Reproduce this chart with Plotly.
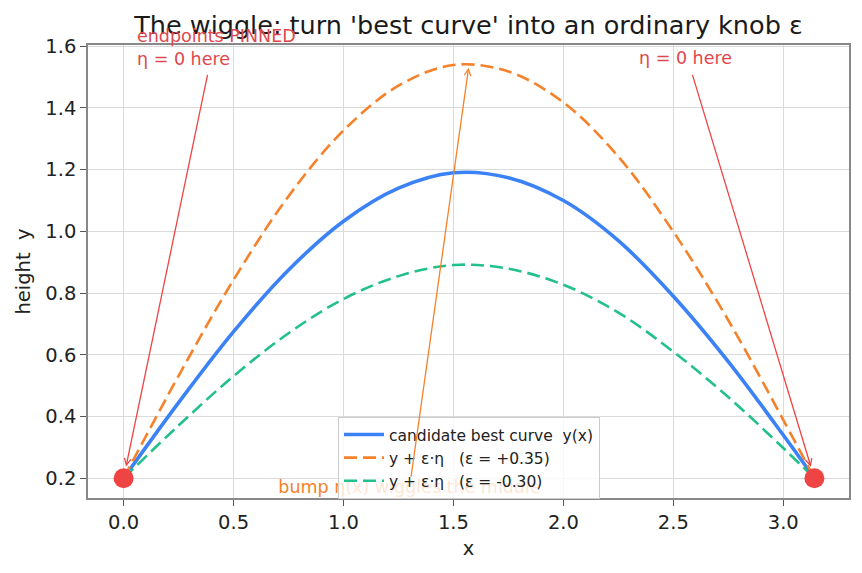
import plotly.graph_objects as go

# sampled x positions and read-off heights
x_vals = [0.0, 0.25, 0.5, 0.75, 1.0, 1.25, 1.5, 1.75, 2.0, 2.25, 2.5, 2.75, 3.0, 3.1416]
y_best = [0.20, 0.445, 0.675, 0.875, 1.033, 1.14, 1.19, 1.174, 1.10, 0.97, 0.79, 0.578, 0.34, 0.20]
y_plus = [0.20, 0.532, 0.843, 1.114, 1.327, 1.472, 1.539, 1.518, 1.418, 1.242, 0.999, 0.712, 0.389, 0.20]
y_minus = [0.20, 0.371, 0.531, 0.670, 0.781, 0.855, 0.891, 0.879, 0.827, 0.737, 0.610, 0.463, 0.298, 0.20]
end_x = [0.0, 3.1416]
end_y = [0.20, 0.20]
peak_x = 1.5708
peak_y = 1.54
bump_text_x = [1.30]
bump_text_y = [0.168]

NB = "\u00a0"
labels = ["candidate best curve" + NB * 2 + "y(x)",
          "y + ε·η" + NB * 3 + "(ε = +0.35)",
          "y + ε·η" + NB * 3 + "(ε = -0.30)"]

BLUE = "#3b82f6"
ORANGE = "#f5822a"
GREEN = "#22c08a"
RED = "#ef4444"
FONT = "DejaVu Sans"

fig = go.Figure()
fig.add_trace(go.Scatter(x=x_vals, y=y_best, mode="lines", name=labels[0],
                         line=dict(color=BLUE, width=3.6, shape="spline")))
fig.add_trace(go.Scatter(x=x_vals, y=y_plus, mode="lines", name=labels[1],
                         line=dict(color=ORANGE, width=2.6, dash="13px,6px", shape="spline")))
fig.add_trace(go.Scatter(x=x_vals, y=y_minus, mode="lines", name=labels[2],
                         line=dict(color=GREEN, width=2.6, dash="13px,6px", shape="spline")))
fig.add_trace(go.Scatter(x=end_x, y=end_y, mode="markers", showlegend=False,
                         marker=dict(color=RED, size=20, line=dict(width=0))))
# bump label drawn as a trace so the legend sits over it
fig.add_trace(go.Scatter(x=bump_text_x, y=bump_text_y, mode="text", showlegend=False,
                         text=["bump η(x) wiggles the middle"], textposition="middle center",
                         textfont=dict(family=FONT, size=17.5, color=ORANGE), hoverinfo="skip"))

ann_font_red = dict(family=FONT, size=17.5, color="#e0474c")
annotations = [
    dict(x=end_x[0], y=end_y[0], ax=0.383, ay=1.512, xref="x", yref="y", axref="x", ayref="y",
         text="", showarrow=True, arrowhead=5, arrowsize=1, arrowwidth=1.3, arrowcolor=RED, standoff=12),
    dict(x=0.05, y=1.596, xref="x", yref="y", xanchor="left", yanchor="middle", align="left",
         text="endpoints PINNED<br>η = 0 here", showarrow=False, font=ann_font_red),
    dict(x=end_x[1], y=end_y[1], ax=2.585, ay=1.512, xref="x", yref="y", axref="x", ayref="y",
         text="", showarrow=True, arrowhead=5, arrowsize=1, arrowwidth=1.3, arrowcolor=RED, standoff=12),
    dict(x=2.557, y=1.563, xref="x", yref="y", xanchor="center", yanchor="middle",
         text="η = 0 here", showarrow=False, font=ann_font_red),
    dict(x=peak_x, y=peak_y, ax=bump_text_x[0], ay=bump_text_y[0], xref="x", yref="y",
         axref="x", ayref="y", text="", showarrow=True, arrowhead=5, arrowsize=1,
         arrowwidth=1.3, arrowcolor=ORANGE, standoff=3, startstandoff=10),
]

axis_common = dict(showgrid=True, gridcolor="#dadada", gridwidth=1, zeroline=False,
                   showline=True, linecolor="#888888", linewidth=1.5, mirror=True,
                   ticks="outside", ticklen=6, tickcolor="#555555", tickwidth=1.3,
                   tickfont=dict(family=FONT, size=19.5, color="#222222"))

fig.update_layout(
    width=862, height=573,
    margin=dict(l=88, r=13, t=45, b=75),
    paper_bgcolor="white", plot_bgcolor="white",
    title=dict(text="The wiggle: turn 'best curve' into an ordinary knob ε",
               x=468.5 / 862, xanchor="center", y=1 - 25 / 573, yanchor="middle",
               font=dict(family=FONT, size=25.5, color="#1a1a1a")),
    xaxis=dict(range=[-0.162, 3.299], tickvals=[0, 0.5, 1.0, 1.5, 2.0, 2.5, 3.0],
               ticktext=["0.0", "0.5", "1.0", "1.5", "2.0", "2.5", "3.0"],
               title=dict(text="x", font=dict(family=FONT, size=19.5, color="#222222"), standoff=8),
               **axis_common),
    yaxis=dict(range=[0.136, 1.604], tickvals=[0.2, 0.4, 0.6, 0.8, 1.0, 1.2, 1.4, 1.6],
               ticktext=["0.2", "0.4", "0.6", "0.8", "1.0", "1.2", "1.4", "1.6"],
               title=dict(text="height" + NB * 2 + "y",
                          font=dict(family=FONT, size=19.5, color="#222222"), standoff=10),
               **axis_common),
    legend=dict(x=0.3285, y=0.179, xanchor="left", yanchor="top",
                bgcolor="rgba(255,255,255,0.8)", bordercolor="#cccccc", borderwidth=1,
                font=dict(family=FONT, size=15.5, color="#222222"),
                tracegroupgap=0, itemwidth=40),
    annotations=annotations,
    showlegend=True,
)

fig.write_html("out.html")
